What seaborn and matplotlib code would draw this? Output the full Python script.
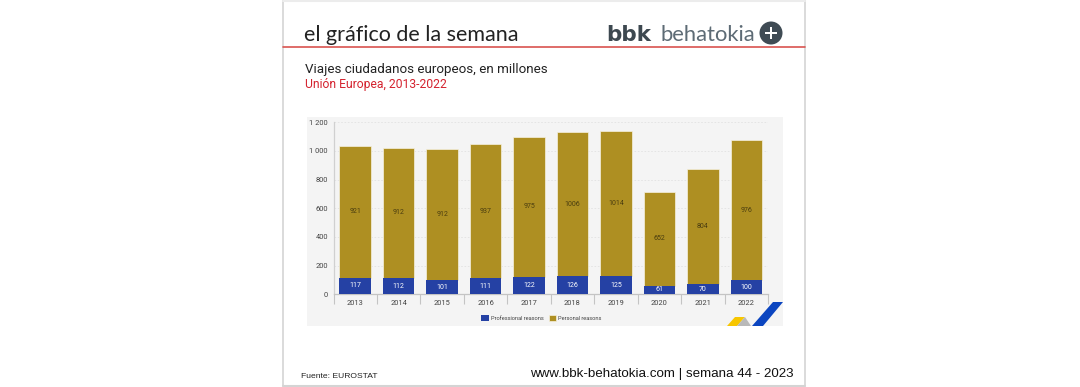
import matplotlib
matplotlib.use("Agg")
import matplotlib.pyplot as plt
from matplotlib.patches import Circle, Polygon, Rectangle
import numpy as np
import pandas as pd
import seaborn as sns

years = ["2013", "2014", "2015", "2016", "2017", "2018", "2019", "2020", "2021", "2022"]
professional = [117, 112, 101, 111, 122, 126, 125, 61, 70, 100]
personal = [921, 912, 912, 937, 975, 1006, 1014, 652, 804, 976]
y_ticks = [0, 200, 400, 600, 800, 1000, 1200]
y_tick_labels = ["0", "200", "400", "600", "800", "1 000", "1 200"]

BLUE = "#2541a4"
GOLD = "#ae8f22"
RED = "#d4222e"
NARROW = "Roboto"
W, H = 1080, 387

sns.set_theme(style="white")
plt.rcParams['font.family'] = ['Lato', 'DejaVu Sans']

df = pd.DataFrame({"year": years, "professional": professional, "personal": personal})

fig = plt.figure(figsize=(W / 100, H / 100), dpi=100, facecolor="white")

# whole page in pixels, for the frame, header and footer
page = fig.add_axes([0, 0, 1, 1], zorder=0)
page.set_xlim(0, W)
page.set_ylim(H, 0)
page.axis("off")

page.plot([283, 283], [0, 386], color="#d4d4d4", lw=1.2)
page.plot([805, 805], [0, 386], color="#d4d4d4", lw=1.2)
page.plot([283, 805], [1, 1], color="#ececec", lw=1.5)
page.plot([283, 805], [386, 386], color="#d4d4d4", lw=1.5)
page.plot([283, 805], [47, 47], color="#d9534f", lw=1.2)

page.text(304, 33, "el gráfico de la semana", fontsize=15.5, color="#222222", va="center_baseline")
page.text(606, 33, "bbk", fontsize=15.5, fontweight="bold", color="#3d4850", va="center_baseline",
          family="DejaVu Sans")
page.text(660, 33, "behatokia", fontsize=15.8, color="#5d6b75", va="center_baseline")
page.add_patch(Circle((771, 33), 11.5, color="#3f4b54", lw=0))
page.add_patch(Rectangle((765, 31.6), 12, 2.8, color="white", lw=0))
page.add_patch(Rectangle((769.6, 27), 2.8, 12, color="white", lw=0))

page.text(305, 68, "Viajes ciudadanos europeos, en millones", fontsize=9.65, color="#222222",
          va="center_baseline", family="Roboto")
page.text(305, 83, "Unión Europea, 2013-2022", fontsize=8.75, color=RED,
          va="center_baseline", family="Roboto")

page.add_patch(Rectangle((307, 117), 476, 209, color="#f4f4f4", lw=0))
page.add_patch(Polygon([(752, 326), (773, 302), (783, 302), (763, 326)], color="#0b45c0", lw=0))
page.add_patch(Polygon([(727, 326), (735, 317), (745, 317), (737, 326)], color="#f7c600", lw=0))
page.add_patch(Polygon([(737, 326), (745, 317), (751, 326)], color="#b9b9b9", lw=0))

page.text(301, 375, "Fuente: EUROSTAT", fontsize=6.1, color="#222222", va="center_baseline",
          family="Liberation Sans")
page.text(794, 373, "www.bbk-behatokia.com | semana 44 - 2023", fontsize=9.6, color="#111111",
          ha="right", va="center_baseline", family="Liberation Sans")

# the bar chart itself
ax_left, ax_right, ax_top, ax_bottom = 333.5, 768, 122.3, 294.3
ax = fig.add_axes([ax_left / W, 1 - ax_bottom / H, (ax_right - ax_left) / W, (ax_bottom - ax_top) / H],
                  zorder=1)
ax.patch.set_alpha(0)

sns.barplot(data=df, x="year", y="personal", bottom=df["professional"], color=GOLD, saturation=1,
            width=0.725, ax=ax, edgecolor="#f6f1df", linewidth=0.5, zorder=3, label="Personal reasons")
sns.barplot(data=df, x="year", y="professional", color=BLUE, saturation=1,
            width=0.725, ax=ax, linewidth=0, zorder=3, label="Professional reasons")

for i, year in enumerate(years):
    ax.text(i, professional[i] / 2, str(professional[i]), color="white", fontsize=5,
            ha="center", va="center", family=NARROW, zorder=4)
    ax.text(i, professional[i] + personal[i] / 2, str(personal[i]), color="#4a3d10", fontsize=5,
            ha="center", va="center", family=NARROW, zorder=4)

ax.set_xlim(-0.5, 9.5)
ax.set_ylim(0, 1200)
ax.set_yticks(y_ticks)
ax.set_yticklabels(y_tick_labels, family=NARROW, fontsize=5.4, color="#444444")
ax.set_xticks(range(len(years)))
ax.set_xticklabels(years, family=NARROW, fontsize=5.4, color="#444444")
ax.set_xticks(np.arange(-0.5, 10), minor=True)
ax.tick_params(axis="x", which="major", length=0, pad=4)
ax.tick_params(axis="x", which="minor", length=7, width=0.8, color="#c4c4c4", bottom=True)
ax.tick_params(axis="y", length=0, pad=4)
ax.set_xlabel("")
ax.set_ylabel("")
ax.grid(axis="y", color="#e2e2e2", lw=0.6, ls=(0, (2, 2)), zorder=0)
ax.set_axisbelow(True)
sns.despine(ax=ax, top=True, right=True)
ax.spines["left"].set_color("#d0d0d0")
ax.spines["left"].set_linewidth(0.9)
ax.spines["bottom"].set_color("#c4c4c4")
ax.spines["bottom"].set_linewidth(0.9)

handles, labels = ax.get_legend_handles_labels()
ax.get_legend().remove()
order = [labels.index("Professional reasons"), labels.index("Personal reasons")]
leg = fig.legend([handles[i] for i in order], [labels[i] for i in order], loc="center",
                 bbox_to_anchor=(541.5 / W, 1 - 318 / H), ncol=2, frameon=False, handlelength=1.3,
                 handleheight=1.3, handletextpad=0.4, columnspacing=0.9,
                 prop={"family": NARROW, "size": 4.1})
for t in leg.get_texts():
    t.set_color("#444444")

fig.savefig("out.png", dpi=100)
